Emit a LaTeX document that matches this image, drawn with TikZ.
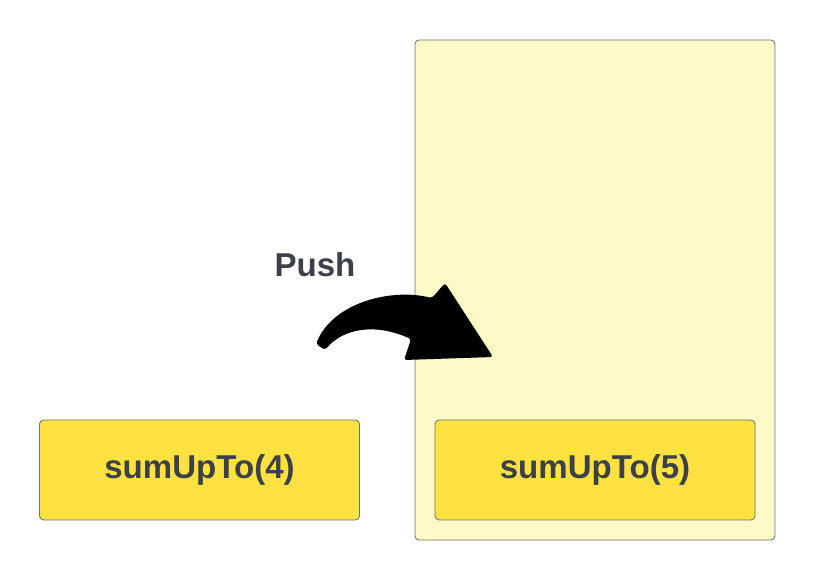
\documentclass[tikz,border=0pt]{standalone}
\usepackage{fontspec}
\setmainfont{Liberation Sans}
\usepackage{xcolor}
\usetikzlibrary{positioning}
\definecolor{stackFill}{HTML}{FDFAC8}
\definecolor{callFill}{HTML}{FFE23F}
\definecolor{edgeGray}{HTML}{707070}
\definecolor{textGray}{HTML}{3B4049}
\begin{document}
\begin{tikzpicture}[x=0.025cm,y=-0.025cm,
  font=\fontsize{23.5}{27}\selectfont\bfseries,
  stackbox/.style={draw=edgeGray,fill=stackFill,rounded corners=3pt,line width=0.6pt,
    minimum width=9cm,minimum height=12.5cm,inner sep=0pt},
  callbox/.style={draw=edgeGray,fill=callFill,rounded corners=3pt,line width=0.6pt,
    minimum width=8cm,minimum height=2.5cm,text=textGray}]
\useasboundingbox (0,0) rectangle (815,580);
% stack frame with the current call
\node[stackbox] (stack) at (595,290) {};
\node[callbox] (call5) at (595,470) {sumUpTo(5)};
% call waiting outside
\node[callbox] (call4) at (199.5,470) {sumUpTo(4)};
\node[text=textGray] (push) at (315,265) {Push};
% fat curved arrow
\coordinate (tail) at (316,344);
\coordinate (tip) at (445,283);
\fill[black,rounded corners=2pt,line join=round]
  (tail) .. controls (333,303) and (390,288) .. (432,298)
  -- (tip) -- (493,357) -- (404,360) -- (411,339)
  .. controls (372,322) and (342,330) .. (325,350) -- cycle;
\end{tikzpicture}
\end{document}
